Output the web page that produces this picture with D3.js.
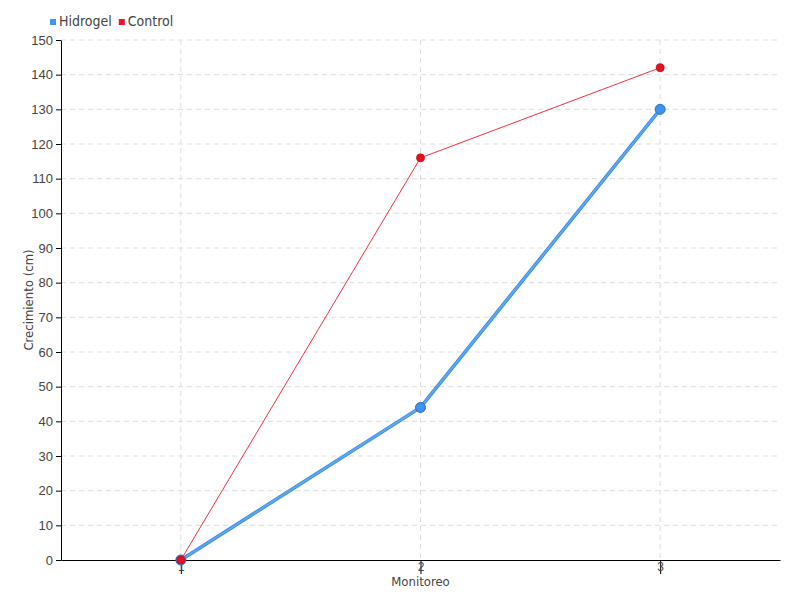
<!DOCTYPE html>
<html lang="es">
<head>
<meta charset="UTF-8">
<title>Crecimiento</title>
<script src="https://cdn.jsdelivr.net/npm/d3@7"></script>
<style>
    body { margin: 0; background: #fff; }
    svg { font-family: "DejaVu Sans Condensed", "Liberation Sans Narrow", "Roboto", sans-serif; }
    .grid line { stroke: #ddd; stroke-dasharray: 5 4; }
    .axis text { fill: #444; font-size: 13px; }
    .axis path, .axis line { stroke: #000; }
</style>
</head>
<body>
<svg id="chart" width="800" height="600"></svg>
<script>
const monitoreo = [1, 2, 3];
const hidrogel = [0, 44, 130];
const control = [0, 116, 142];
const yTicks = [0, 10, 20, 30, 40, 50, 60, 70, 80, 90, 100, 110, 120, 130, 140, 150];

const svg = d3.select("#chart");
const margin = { top: 40, right: 20, bottom: 40, left: 61 };
const width = 800 - margin.left - margin.right;
const height = 600 - margin.top - margin.bottom;

const x = d3.scaleLinear().domain([0.5, 3.5]).range([0, width]);
const y = d3.scaleLinear().domain([0, 150]).range([height, 0]);

const g = svg.append("g").attr("transform", `translate(${margin.left},${margin.top})`);

// grid
g.append("g").attr("class", "grid")
    .selectAll("line").data(yTicks.slice(1)).enter().append("line")
    .attr("x1", 0).attr("x2", width)
    .attr("y1", d => y(d)).attr("y2", d => y(d));
g.append("g").attr("class", "grid")
    .selectAll("line").data(monitoreo).enter().append("line")
    .attr("x1", d => x(d)).attr("x2", d => x(d))
    .attr("y1", 0).attr("y2", height);

// axes
g.append("g").attr("class", "axis")
    .call(d3.axisLeft(y).tickValues(yTicks).tickSize(5).tickSizeOuter(0));
const xa = g.append("g").attr("class", "axis")
    .attr("transform", `translate(0,${height})`)
    .call(d3.axisBottom(x).tickValues(monitoreo).tickFormat(d3.format("d")).tickSize(14).tickSizeOuter(0));
xa.selectAll("text").attr("y", 2).style("font-size", "12px");

g.append("text")
    .attr("x", x(2)).attr("y", height + 26)
    .attr("text-anchor", "middle").attr("fill", "#444").style("font-size", "13px")
    .text("Monitoreo");
g.append("text")
    .attr("transform", `translate(${-28},${height / 2}) rotate(-90)`)
    .attr("text-anchor", "middle").attr("fill", "#444").style("font-size", "13px")
    .text("Crecimiento (cm)");

const line = d3.line().x((d, i) => x(monitoreo[i])).y(d => y(d));

// control
g.append("path").datum(control)
    .attr("fill", "none").attr("stroke", "#f2303f").attr("stroke-width", 1)
    .attr("d", line);

// hidrogel
g.append("path").datum(hidrogel)
    .attr("fill", "none").attr("stroke", "#3a88dc").attr("stroke-width", 3.5)
    .attr("d", line);
g.append("path").datum(hidrogel)
    .attr("fill", "none").attr("stroke", "#5aa8f5").attr("stroke-width", 2)
    .attr("d", line);
g.selectAll(".ph").data(hidrogel).enter().append("circle")
    .attr("cx", (d, i) => x(monitoreo[i])).attr("cy", d => y(d)).attr("r", 5)
    .attr("fill", "#3d92ee").attr("stroke", "#2a6fc0").attr("stroke-width", 1);

g.selectAll(".pc").data(control).enter().append("circle")
    .attr("cx", (d, i) => x(monitoreo[i])).attr("cy", d => y(d)).attr("r", 4)
    .attr("fill", "#e8101f").attr("stroke", "#c40815").attr("stroke-width", 0.8);

// legend
const legend = [["Hidrogel", "#3d96f0"], ["Control", "#f0102a"]];
let lx = 50;
legend.forEach(([name, color]) => {
    svg.append("rect").attr("x", lx).attr("y", 19).attr("width", 6).attr("height", 6).attr("fill", color);
    const t = svg.append("text").attr("x", lx + 9).attr("y", 26)
        .attr("fill", "#444").style("font-size", "14px").text(name);
    lx += t.node().getComputedTextLength() + 16;
});
</script>
</body>
</html>
